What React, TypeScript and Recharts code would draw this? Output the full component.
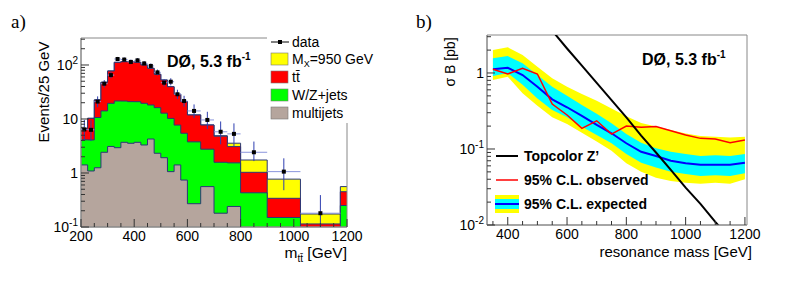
import React from "react";
import {
  ComposedChart,
  Area,
  Line,
  Scatter,
  XAxis,
  YAxis,
  ErrorBar,
  ReferenceArea,
} from "recharts";

const SANS = "'Liberation Sans', Arial, Helvetica, sans-serif";
const SERIF = "'Liberation Serif', 'Times New Roman', serif";

// ---- panel a) : m_tt histogram, events / 25 GeV ----
const binLow = [200, 225, 250, 275, 300, 325, 350, 375, 400, 425, 450, 475, 500, 525, 550, 575, 600, 650, 700, 750, 800, 900, 1025, 1175];
const binHigh = 1200;
const multijets = [1.41, 1.09, 1.25, 2.42, 3.1, 2.94, 3.7, 3.55, 3.7, 3.3, 4.26, 2.32, 1.92, 1.06, 1.41, 0.74, 0.27, 0.56, 0.18, 0.24, 0.05, 0.02, 0.01, 0.01];
const wzJets = [2.7, 3.0, 9.4, 11.7, 16.4, 18.6, 17.8, 17.4, 17.2, 16.2, 13.9, 13.9, 10.9, 9.2, 6.3, 4.7, 3.5, 2.2, 1.4, 1.3, 0.38, 0.13, 0.07, 0.24];
const ttbar = [2.6, 6.2, 11.9, 33.7, 57.9, 90.5, 93.5, 94.1, 91.1, 80.5, 68.7, 51.1, 39.9, 29.3, 21, 15.5, 8.1, 4.96, 3.22, 1.54, 0.6, 0.19, 0.034, 0.2];
const signal950 = [0, 0, 0, 0, 0, 0, 0, 0, 0, 0, 0, 0, 0, 0, 0, 0.02, 0.04, 0.06, 0.1, 0.48, 0.71, 0.43, 0.06, 0.11];

const dataMass = [212.5, 237.5, 262.5, 287.5, 312.5, 337.5, 362.5, 387.5, 412.5, 437.5, 462.5, 487.5, 512.5, 537.5, 562.5, 587.5, 625, 675, 725, 775, 850, 962.5, 1100];
const dataEvents = [6.4, 6.3, 21, 45, 65, 129, 126, 114, 122, 107, 96, 73, 47, 49, 28.7, 21.5, 14.1, 9.6, 5.8, 5.3, 2.42, 1.06, 0.18];
const dataErrLow = [2.4, 2.4, 4.5, 6.7, 8, 11, 11, 10.5, 11, 10, 9.7, 8.5, 6.8, 7, 5.3, 4.6, 3.7, 3.1, 2.4, 2.2, 0.76, 0.58, 0.08];
const dataErrHigh = [3.2, 3.2, 5.2, 7.5, 8.8, 12, 12, 11.5, 12, 11, 10.5, 9.3, 7.6, 7.8, 6.1, 5.4, 4.5, 4.0, 3.2, 3.0, 1.4, 0.81, 0.21];
const dataHalfBin = [12.5, 12.5, 12.5, 12.5, 12.5, 12.5, 12.5, 12.5, 12.5, 12.5, 12.5, 12.5, 12.5, 12.5, 12.5, 12.5, 25, 25, 25, 25, 50, 62.5, 75];

// ---- panel b) : 95% C.L. limits on sigma x B ----
const massPoints = [350, 400, 450, 500, 550, 600, 650, 700, 750, 800, 850, 900, 950, 1000, 1050, 1100, 1150, 1200];
const twoSigmaLow = [0.81, 0.89, 0.54, 0.37, 0.261, 0.213, 0.164, 0.125, 0.095, 0.065, 0.05, 0.042, 0.038, 0.036, 0.035, 0.036, 0.035, 0.04];
const twoSigmaHigh = [2.0, 2.18, 1.72, 1.21, 0.85, 0.66, 0.53, 0.43, 0.34, 0.27, 0.22, 0.197, 0.178, 0.16, 0.148, 0.145, 0.142, 0.145];
const oneSigmaLow = [0.91, 1.0, 0.7, 0.46, 0.326, 0.261, 0.196, 0.153, 0.119, 0.086, 0.066, 0.057, 0.05, 0.047, 0.044, 0.045, 0.044, 0.048];
const oneSigmaHigh = [1.56, 1.67, 1.34, 0.94, 0.66, 0.5, 0.38, 0.29, 0.218, 0.157, 0.121, 0.102, 0.092, 0.086, 0.081, 0.083, 0.081, 0.086];
const expectedLimit = [1.12, 1.17, 0.94, 0.66, 0.45, 0.354, 0.272, 0.207, 0.161, 0.119, 0.092, 0.081, 0.07, 0.065, 0.062, 0.062, 0.062, 0.066];
const observedLimit = [1.12, 0.97, 1.15, 0.97, 0.39, 0.28, 0.187, 0.235, 0.157, 0.2, 0.193, 0.197, 0.174, 0.153, 0.138, 0.135, 0.121, 0.131];
const topcolorZ = [null, null, null, 6.5, 3.6, 2.1, 1.25, 0.74, 0.44, 0.26, 0.15, 0.09, 0.053, 0.031, 0.019, 0.011, 0.0066, 0.0039];

// tick positions
const leftYTicks = [0.1, 1, 10, 100].flatMap((d) => [1, 2, 3, 4, 5, 6, 7, 8, 9].map((k) => +(d * k).toPrecision(3))).filter((v) => v <= 316);
const rightYTicks = [0.01, 0.1, 1].flatMap((d) => [1, 2, 3, 4, 5, 6, 7, 8, 9].map((k) => +(d * k).toPrecision(3))).filter((v) => v <= 3.16);
const leftXTicks = [200, 250, 300, 350, 400, 450, 500, 550, 600, 650, 700, 750, 800, 850, 900, 950, 1000, 1050, 1100, 1150, 1200];
const rightXTicks = [350, 400, 450, 500, 550, 600, 650, 700, 750, 800, 850, 900, 950, 1000, 1050, 1100, 1150, 1200];

const histRows = [...binLow, binHigh].map((x, i) => {
  const k = Math.min(i, binLow.length - 1);
  const mj = multijets[k];
  const wz = mj + wzJets[k];
  const tt = wz + ttbar[k];
  const sig = tt + signal950[k];
  return { x, mj, wz, tt, sig };
});

const pointRows = dataMass.map((x, i) => ({
  x,
  y: dataEvents[i],
  ex: dataHalfBin[i],
  ey: [dataErrLow[i], dataErrHigh[i]],
}));

const limitRows = massPoints.map((m, i) => ({
  m,
  band2: [twoSigmaLow[i], twoSigmaHigh[i]],
  band1: [oneSigmaLow[i], oneSigmaHigh[i]],
  exp: expectedLimit[i],
  obs: observedLimit[i],
  th: topcolorZ[i],
}));

function decadeLabel(v: number) {
  const p = Math.round(Math.log10(v));
  if (p === 0) return <tspan>1</tspan>;
  if (p === 1) return <tspan>10</tspan>;
  return (
    <>
      <tspan>10</tspan>
      <tspan dy={-6} fontSize={10}>{p}</tspan>
    </>
  );
}

const LogYTick = (props: any) => {
  const { x, y, payload } = props;
  const v = payload.value;
  const lg = Math.log10(v);
  const major = Math.abs(lg - Math.round(lg)) < 1e-6;
  const ax = x + 3;
  return (
    <g>
      <line x1={ax} x2={ax + (major ? 8 : 4)} y1={y} y2={y} stroke="#333" />
      {major && (
        <text x={x} y={y} dy={5} textAnchor="end" fontSize={14} fontFamily={SANS} fill="#000">
          {decadeLabel(v)}
        </text>
      )}
    </g>
  );
};

const LinXTick = (props: any) => {
  const { x, y, payload } = props;
  const v = payload.value;
  const major = v % 200 === 0;
  return (
    <g>
      <line x1={x} x2={x} y1={y} y2={y - (major ? 8 : 4)} stroke="#333" />
      {major && (
        <text x={x} y={y + 14} textAnchor="middle" fontSize={14} fontFamily={SANS} fill="#000">
          {v}
        </text>
      )}
    </g>
  );
};

const dataDot = (p: any) => <rect x={p.cx - 2} y={p.cy - 2} width={4} height={4} fill="#000" />;

const OUTLINE = "#2a3878";

function HistPanel() {
  return (
    <ComposedChart
      width={400}
      height={293}
      data={histRows}
      margin={{ top: 38, right: 53, bottom: 36, left: 41 }}
    >
      <XAxis
        dataKey="x"
        type="number"
        domain={[200, 1200]}
        allowDataOverflow
        ticks={leftXTicks}
        interval={0}
        tick={LinXTick}
        tickLine={false}
        tickSize={0}
        tickMargin={0}
        height={30}
        axisLine={{ stroke: "#888" }}
      />
      <YAxis
        type="number"
        scale="log"
        domain={[0.1, 316]}
        allowDataOverflow
        ticks={leftYTicks}
        interval={0}
        tick={LogYTick}
        tickLine={false}
        tickSize={0}
        tickMargin={3}
        width={40}
        axisLine={{ stroke: "#888" }}
      />
      <Area type="stepAfter" dataKey="sig" fill="#ffff00" fillOpacity={1} stroke={OUTLINE} strokeWidth={1} isAnimationActive={false} />
      <Area type="stepAfter" dataKey="tt" fill="#ff0000" fillOpacity={1} stroke={OUTLINE} strokeWidth={1} isAnimationActive={false} />
      <Area type="stepAfter" dataKey="wz" fill="#00ff00" fillOpacity={1} stroke={OUTLINE} strokeWidth={1} isAnimationActive={false} />
      <Area type="stepAfter" dataKey="mj" fill="#b5a59d" fillOpacity={1} stroke={OUTLINE} strokeWidth={1} isAnimationActive={false} />
      <Scatter data={pointRows} dataKey="y" shape={dataDot} isAnimationActive={false}>
        <ErrorBar dataKey="ex" direction="x" width={0} stroke="#8a95dc" strokeWidth={1} />
        <ErrorBar dataKey="ey" direction="y" width={0} stroke="#2f3fb0" strokeWidth={1} />
      </Scatter>
      <ReferenceArea x1={200} x2={1200} y1={0.1} y2={316} fill="none" stroke="#888" strokeWidth={1} />
    </ComposedChart>
  );
}

function LimitPanel() {
  return (
    <ComposedChart
      width={410}
      height={293}
      data={limitRows}
      margin={{ top: 35, right: 63, bottom: 38, left: 47 }}
    >
      <XAxis
        dataKey="m"
        type="number"
        domain={[330, 1207]}
        allowDataOverflow
        ticks={rightXTicks}
        interval={0}
        tick={LinXTick}
        tickLine={false}
        tickSize={0}
        tickMargin={0}
        height={30}
        axisLine={{ stroke: "#888" }}
      />
      <YAxis
        type="number"
        scale="log"
        domain={[0.01, 3.16]}
        allowDataOverflow
        ticks={rightYTicks}
        interval={0}
        tick={LogYTick}
        tickLine={false}
        tickSize={0}
        tickMargin={3}
        width={40}
        axisLine={{ stroke: "#888" }}
      />
      <Area type="linear" dataKey="band2" fill="#ffff00" fillOpacity={1} stroke="none" isAnimationActive={false} />
      <Area type="linear" dataKey="band1" fill="#00ffff" fillOpacity={1} stroke="none" isAnimationActive={false} />
      <Line type="linear" dataKey="exp" stroke="#0000ff" strokeWidth={2} dot={false} isAnimationActive={false} />
      <Line type="linear" dataKey="obs" stroke="#ff0000" strokeWidth={1.5} dot={false} isAnimationActive={false} />
      <Line type="linear" dataKey="th" stroke="#000000" strokeWidth={2} dot={false} isAnimationActive={false} />
      <ReferenceArea x1={330} x2={1207} y1={0.01} y2={3.16} fill="none" stroke="#888" strokeWidth={1} />
    </ComposedChart>
  );
}

function Overlay() {
  const t = { fontFamily: SANS, fill: "#000" };
  return (
    <svg width={810} height={293} style={{ position: "absolute", left: 0, top: 0, pointerEvents: "none" }}>
      <text x={11} y={28} fontFamily={SERIF} fontSize={19}>a)</text>
      <text x={416} y={28} fontFamily={SERIF} fontSize={19}>b)</text>

      {/* panel a titles */}
      <text transform="rotate(-90 49 92)" x={49} y={92} textAnchor="middle" fontSize={15} {...t}>Events/25 GeV</text>
      <text x={347} y={258} textAnchor="end" fontSize={15.5} {...t}>
        m<tspan dy={4} fontSize={10}>tt̄</tspan><tspan dy={-4}> [GeV]</tspan>
      </text>
      <text x={167} y={67} fontSize={16} fontWeight="bold" {...t}>
        DØ, 5.3 fb<tspan dy={-7} fontSize={10}>-1</tspan>
      </text>

      {/* panel a legend */}
      <rect x={267} y={33} width={133} height={90} fill="#fff" />
      <line x1={271} x2={289} y1={42} y2={42} stroke="#000" />
      <rect x={278} y={40} width={4} height={4} fill="#000" />
      <text x={292} y={47} fontSize={14} {...t}>data</text>
      <rect x={271} y={53} width={17} height={12} fill="#ffff00" stroke="#777" strokeWidth={0.6} />
      <text x={292} y={64} fontSize={14} {...t}>
        M<tspan dy={3} fontSize={9}>X</tspan><tspan dy={-3}>=950 GeV</tspan>
      </text>
      <rect x={271} y={71} width={17} height={12} fill="#ff0000" stroke="#777" strokeWidth={0.6} />
      <text x={292} y={82} fontSize={14} {...t}>tt̄</text>
      <rect x={271} y={89} width={17} height={12} fill="#00ff00" stroke="#777" strokeWidth={0.6} />
      <text x={292} y={100} fontSize={14} {...t}>W/Z+jets</text>
      <rect x={271} y={107} width={17} height={12} fill="#b5a59d" stroke="#777" strokeWidth={0.6} />
      <text x={292} y={118} fontSize={14} {...t}>multijets</text>

      {/* panel b titles */}
      <text transform="rotate(-90 455 62)" x={455} y={62} textAnchor="middle" fontSize={14} {...t}>σ B [pb]</text>
      <text x={752} y={257} textAnchor="end" fontSize={15} {...t}>resonance mass [GeV]</text>
      <text x={642} y={65} fontSize={16} fontWeight="bold" {...t}>
        DØ, 5.3 fb<tspan dy={-7} fontSize={10}>-1</tspan>
      </text>

      {/* panel b legend */}
      <line x1={496} x2={518} y1={156} y2={156} stroke="#000" strokeWidth={2} />
      <text x={524} y={161} fontSize={14} fontWeight="bold" {...t}>Topcolor Z’</text>
      <line x1={496} x2={518} y1={180} y2={180} stroke="#ff0000" strokeWidth={1.5} />
      <text x={524} y={185} fontSize={14} fontWeight="bold" {...t}>95% C.L. observed</text>
      <rect x={495} y={195} width={24} height={18} fill="#ffff00" />
      <rect x={495} y={199} width={24} height={10} fill="#00ffff" />
      <line x1={495} x2={519} y1={204} y2={204} stroke="#0000ff" strokeWidth={2} />
      <text x={524} y={209} fontSize={14} fontWeight="bold" {...t}>95% C.L. expected</text>
    </svg>
  );
}

export default function App() {
  return (
    <div style={{ position: "absolute", left: 0, top: 0, width: 810, height: 293, background: "#fff" }}>
      <div style={{ position: "absolute", left: 0, top: 0 }}>
        <HistPanel />
      </div>
      <div style={{ position: "absolute", left: 400, top: 0 }}>
        <LimitPanel />
      </div>
      <Overlay />
    </div>
  );
}
